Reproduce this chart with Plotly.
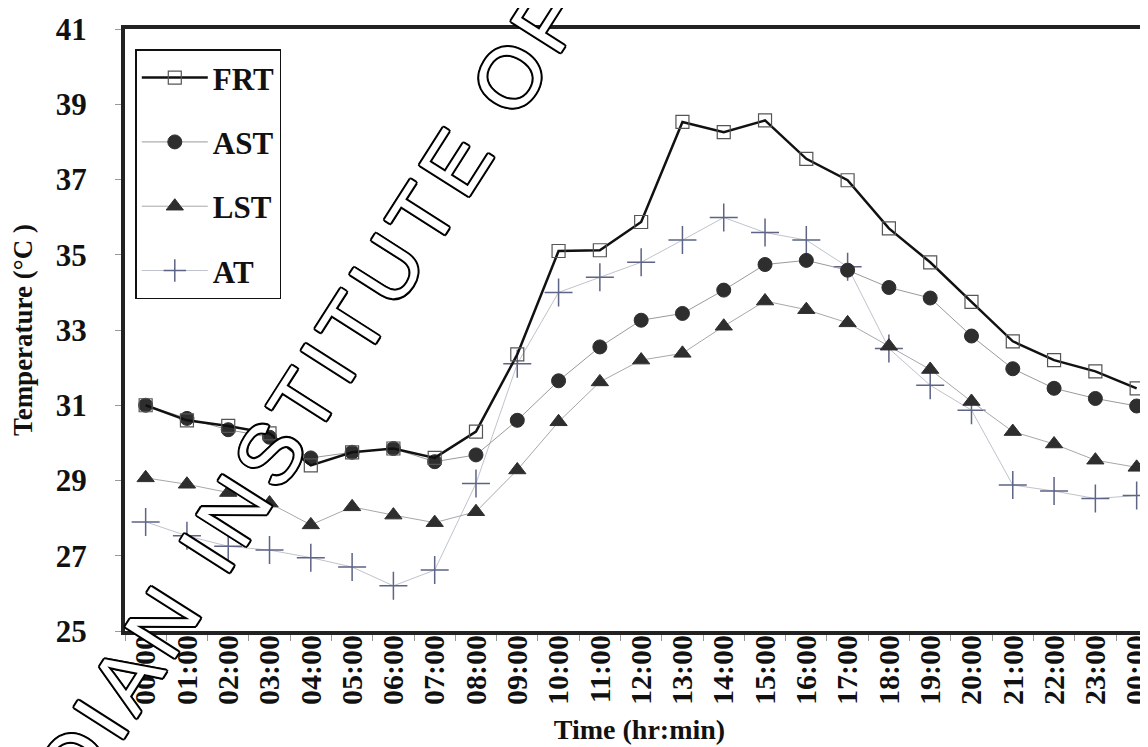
import plotly.graph_objects as go

times = ["00:00", "01:00", "02:00", "03:00", "04:00", "05:00", "06:00", "07:00",
         "08:00", "09:00", "10:00", "11:00", "12:00", "13:00", "14:00", "15:00",
         "16:00", "17:00", "18:00", "19:00", "20:00", "21:00", "22:00", "23:00", "00:00"]

frt = [31.0, 30.6, 30.45, 30.25, 29.4, 29.75, 29.85, 29.6, 30.3, 32.35, 35.1, 35.12,
       35.87, 38.53, 38.26, 38.57, 37.55, 36.98, 35.7, 34.8, 33.75, 32.7, 32.2, 31.9, 31.45]
ast = [31.0, 30.65, 30.35, 30.15, 29.6, 29.75, 29.85, 29.5, 29.68, 30.6, 31.65, 32.55,
       33.26, 33.44, 34.06, 34.74, 34.85, 34.59, 34.13, 33.85, 32.84, 31.97, 31.45, 31.18, 30.98]
lst = [29.07, 28.9, 28.68, 28.4, 27.82, 28.3, 28.08, 27.88, 28.17, 29.28, 30.56, 31.62,
       32.2, 32.38, 33.1, 33.77, 33.54, 33.19, 32.57, 31.95, 31.1, 30.3, 29.97, 29.54, 29.35]
at = [27.9, 27.53, 27.25, 27.15, 26.95, 26.7, 26.2, 26.62, 28.92, 32.1, 34.0, 34.4,
      34.8, 35.39, 35.99, 35.59, 35.39, 34.68, 32.51, 31.53, 30.87, 28.88, 28.72, 28.52, 28.6]

y_ticks = [25, 27, 29, 31, 33, 35, 37, 39, 41]
x_idx = list(range(len(times)))

watermark = "INDIAN INSTITUTE OF"

serif = "Liberation Serif, Times New Roman, serif"

fig = go.Figure()

fig.add_trace(go.Scatter(
    x=x_idx, y=at, name="<b>AT</b>", mode="lines+markers", legendgroup="d", legendrank=4,
    line=dict(color="#c0c3cc", width=1),
    marker=dict(symbol="cross-thin", size=20, line=dict(color="#5d6485", width=1.5)),
))
fig.add_trace(go.Scatter(
    x=x_idx, y=lst, name="<b>LST</b>", mode="lines+markers", legendgroup="c", legendrank=3,
    line=dict(color="#a8a8a8", width=1),
    marker=dict(symbol="triangle-up", size=15, color="#2e2e2e", line=dict(color="#2e2e2e", width=1)),
))
fig.add_trace(go.Scatter(
    x=x_idx, y=ast, name="<b>AST</b>", mode="lines+markers", legendgroup="b", legendrank=2,
    line=dict(color="#9a9a9a", width=1),
    marker=dict(symbol="circle", size=14, color="#2e2e2e", line=dict(color="#2e2e2e", width=1)),
))
fig.add_trace(go.Scatter(
    x=x_idx, y=frt, name="<b>FRT</b>", mode="lines+markers", legendgroup="a", legendrank=1,
    line=dict(color="#111111", width=2.5),
    marker=dict(symbol="square-open", size=13, color="#555555", line=dict(width=1.2)),
))

fig.add_annotation(
    text=f'<span style="letter-spacing:8px">{watermark}</span>',
    xref="paper", yref="paper", x=0.154, y=0.33,
    xanchor="center", yanchor="middle", showarrow=False, textangle=-57.5,
    font=dict(family="Liberation Sans, Arial, sans-serif", size=85, color="white",
              shadow="2px 0 0 #000, -2px 0 0 #000, 0 2px 0 #000, 0 -2px 0 #000, "
                     "1.5px 1.5px 0 #000, -1.5px -1.5px 0 #000, 1.5px -1.5px 0 #000, -1.5px 1.5px 0 #000"),
)

fig.update_layout(
    width=1148, height=747,
    margin=dict(l=117, r=2, t=21, b=124),
    paper_bgcolor="white", plot_bgcolor="white",
    showlegend=True,
    legend=dict(
        x=0.01, y=0.966, xanchor="left", yanchor="top",
        bgcolor="white", bordercolor="#111", borderwidth=1.5,
        font=dict(family=serif, size=31, color="#111"),
        tracegroupgap=21, itemwidth=66, traceorder="grouped",
    ),
    font=dict(family=serif, color="#111"),
)

fig.update_xaxes(
    range=[-0.5, 24.42], automargin=False,
    tickmode="array", tickvals=x_idx, ticktext=[f"<b>{t}</b>" for t in times],
    tickangle=-90, ticks="",
    tickfont=dict(family=serif, size=30, color="#111"),
    ticklabelstandoff=-12,
    minor=dict(tick0=0.5, dtick=1, ticks="outside", ticklen=6, tickcolor="#999", tickwidth=1),
    showline=True, linecolor="#222", linewidth=4, mirror=True,
    showgrid=False, zeroline=False,
    title=dict(text="<b>Time (hr:min)</b>", font=dict(family=serif, size=28, color="#111"), standoff=16),
)
fig.update_yaxes(
    range=[25, 41], automargin=False,
    tickmode="array", tickvals=y_ticks, ticktext=[f"<b>{v}</b>" for v in y_ticks],
    ticks="outside", ticklen=6, tickcolor="#999", tickwidth=1,
    tickfont=dict(family=serif, size=31, color="#111"),
    ticklabelstandoff=22,
    showline=True, linecolor="#222", linewidth=4, mirror=True,
    showgrid=False, zeroline=False,
    title=dict(text="<b>Temperature (°C )</b>", font=dict(family=serif, size=27, color="#111"), standoff=16),
)

fig.write_html("out.html")
